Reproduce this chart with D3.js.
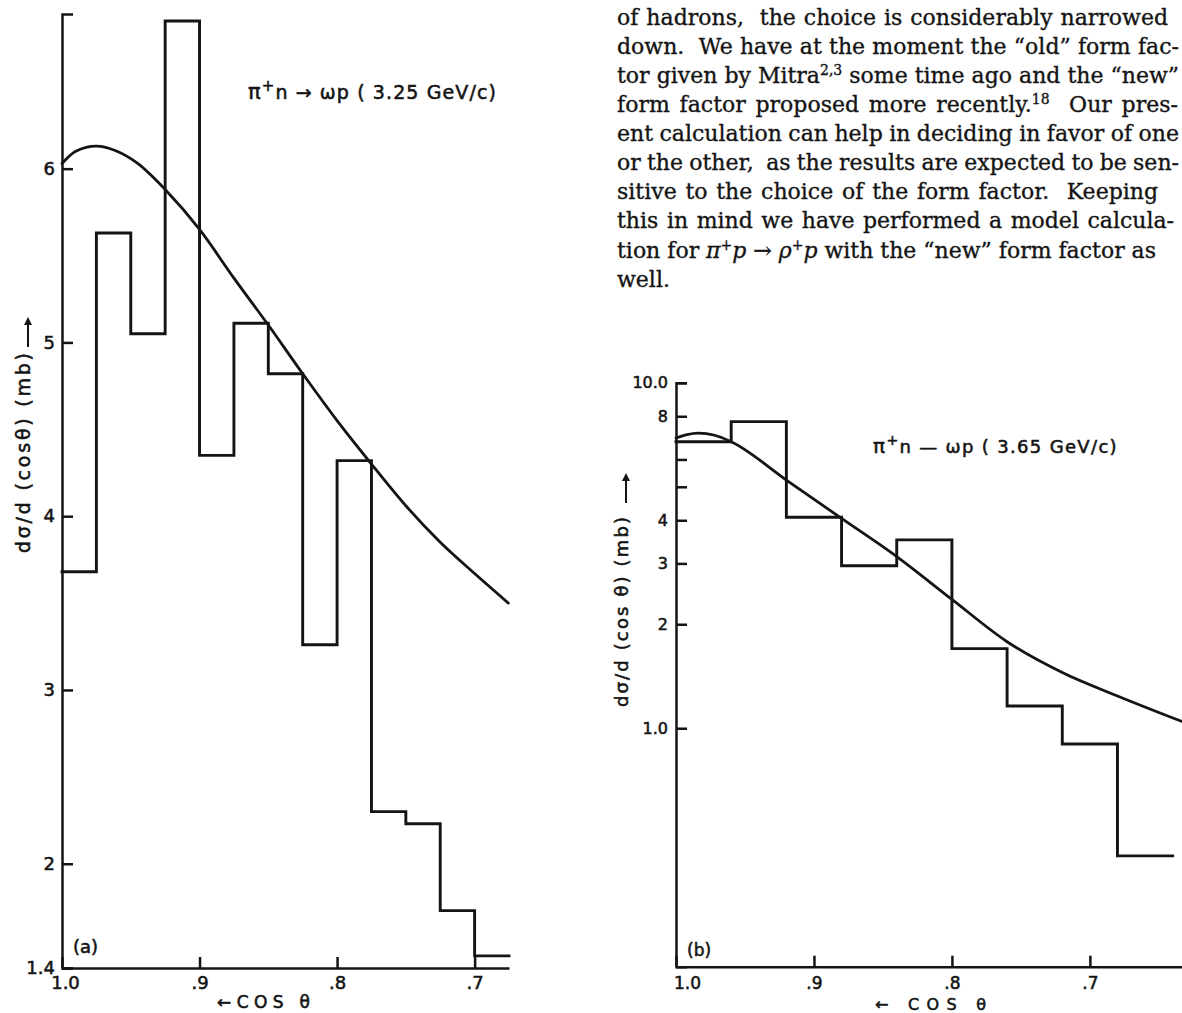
<!DOCTYPE html>
<html>
<head>
<meta charset="utf-8">
<script src="https://cdn.jsdelivr.net/npm/d3@7"></script>
<style>
  html, body { margin: 0; padding: 0; background: #fff; }
  svg { display: block; }
  .body-text { white-space: pre; }
</style>
</head>
<body>
<svg id="fig" width="1182" height="1013"></svg>
<script>
// ---------- data: panel (a)  pi+ n -> omega p at 3.25 GeV/c ----------
const binEdgesA = [1.0, 0.975, 0.95, 0.925, 0.9, 0.875, 0.85, 0.825, 0.8, 0.775, 0.75, 0.725, 0.7, 0.675];
const histA     = [3.68, 5.63, 5.05, 6.85, 4.35, 5.11, 4.82, 3.26, 4.32, 2.30, 2.23, 1.73, 1.47];
const curveCosA = [1.0, 0.99, 0.975, 0.96, 0.945, 0.925, 0.9, 0.875, 0.85, 0.825, 0.8, 0.775, 0.75, 0.725, 0.7, 0.6755];
const curveA    = [6.03, 6.10, 6.13, 6.10, 6.03, 5.88, 5.65, 5.37, 5.10, 4.82, 4.55, 4.30, 4.06, 3.85, 3.67, 3.50];
const yTicksA      = [1.4, 2, 3, 4, 5, 6];
const yTickLabelsA = ["1.4", "2", "3", "4", "5", "6"];

// ---------- data: panel (b)  pi+ n -> omega p at 3.65 GeV/c ----------
const binEdgesB = [1.0, 0.96, 0.92, 0.88, 0.84, 0.80, 0.76, 0.72, 0.68, 0.64];
const histB     = [6.75, 7.72, 4.08, 2.955, 3.51, 1.70, 1.16, 0.90, 0.427];
const curveCosB = [1.0, 0.992, 0.984, 0.972, 0.96, 0.92, 0.88, 0.84, 0.80, 0.76, 0.72, 0.68, 0.633];
const curveB    = [6.92, 7.08, 7.15, 7.05, 6.75, 5.23, 4.05, 3.14, 2.36, 1.78, 1.45, 1.24, 1.045];
const yTicksB      = [1, 2, 3, 4, 5, 6, 8, 10];
const yTickLabelsB = ["1.0", "2", "3", "4", "", "", "8", "10.0"];

// ---------- shared x ticks ----------
const xTicks      = [1.0, 0.9, 0.8, 0.7];
const xTickLabels = ["1.0", ".9", ".8", ".7"];

// ---------- running text beside the figure ----------
const bodyLines = [
  [["of hadrons,  the choice is considerably narrowed"]],
  [["down.  We have at the moment the \u201cold\u201d form fac-"]],
  [["tor given by Mitra"], ["2,3", "sup"], [" some time ago and the \u201cnew\u201d"]],
  [["form factor proposed more recently."], ["18", "sup"], ["  Our pres-"]],
  [["ent calculation can help in deciding in favor of one"]],
  [["or the other,  as the results are expected to be sen-"]],
  [["sitive to the choice of the form factor.  Keeping"]],
  [["this in mind we have performed a model calcula-"]],
  [["tion for "], ["\u03c0", "it"], ["+", "sup"], ["p", "it"], [" \u2192 "], ["\u03c1", "it"], ["+", "sup"], ["p", "it"], [" with the \u201cnew\u201d form factor as"]],
  [["well."]]
];
const bodyLineEnds = [1168, 1179, 1179, 1178, 1179, 1179, 1158, 1174, 1156, null];

const INK = "#141414";
const SANS = "'DejaVu Sans', 'Liberation Sans', sans-serif";
const SERIF = "'DejaVu Serif', 'Liberation Serif', serif";

const svg = d3.select("#fig");

svg.append("defs").append("marker")
  .attr("id", "arrowUp")
  .attr("viewBox", "0 0 10 10")
  .attr("refX", 5).attr("refY", 5)
  .attr("markerWidth", 4).attr("markerHeight", 4)
  .attr("markerUnits", "strokeWidth")
  .attr("orient", "auto")
  .append("path").attr("d", "M0,0 L10,5 L0,10 Z").attr("fill", INK);

// lettering of the figure: a sans face drawn slightly heavier
function letter(sel, fs) {
  return sel.style("font-family", SANS).style("font-size", fs + "px")
    .attr("fill", INK).attr("stroke", INK).attr("stroke-width", 0.55);
}

function styleAxis(g, fs) {
  g.attr("font-family", null).attr("font-size", null);
  g.select(".domain").attr("stroke", INK).attr("stroke-width", 2.5).attr("fill", "none");
  g.selectAll(".tick line").attr("stroke", INK).attr("stroke-width", 2.5);
  letter(g.selectAll(".tick text"), fs);
}

function drawPanel(cfg) {
  const { x, y } = cfg;
  const g = svg.append("g");

  // histogram outline (step curve over the bins)
  const stepPts = cfg.hist.map((v, i) => [cfg.edges[i], v]);
  stepPts.push([cfg.edges[cfg.edges.length - 1], cfg.hist[cfg.hist.length - 1]]);
  g.append("path")
    .attr("d", d3.line().x(d => x(d[0])).y(d => y(d[1])).curve(d3.curveStepAfter)(stepPts))
    .attr("fill", "none").attr("stroke", INK).attr("stroke-width", 2.9)
    .attr("stroke-linejoin", "miter").attr("stroke-linecap", "square");

  // model curve
  const cPts = cfg.curveCos.map((c, i) => [c, cfg.curve[i]]);
  g.append("path")
    .attr("d", d3.line().x(d => x(d[0])).y(d => y(d[1])).curve(d3.curveMonotoneX)(cPts.slice().reverse()))
    .attr("fill", "none").attr("stroke", INK).attr("stroke-width", 2.8)
    .attr("stroke-linecap", "round");

  // axes
  const yAxis = d3.axisLeft(y)
    .tickValues(cfg.yTicks)
    .tickFormat((d, i) => cfg.yLabels[i])
    .tickSizeInner(-11).tickSizeOuter(-11).tickPadding(cfg.yPad);
  const ya = g.append("g").attr("transform", `translate(${x.range()[0]},0)`).call(yAxis);
  styleAxis(ya, cfg.yFs);

  const xAxis = d3.axisBottom(x)
    .tickValues(xTicks)
    .tickFormat((d, i) => xTickLabels[i])
    .tickSizeInner(-11).tickSizeOuter(0).tickPadding(cfg.xPad);
  const xa = g.append("g").attr("transform", `translate(0,${y.range()[0]})`).call(xAxis);
  styleAxis(xa, cfg.xFs);
  xa.selectAll(".tick text").filter(d => d === 1.0).attr("dx", cfg.firstDx);

  // panel tag
  letter(g.append("text").attr("x", cfg.tag[0]).attr("y", cfg.tag[1]), cfg.xFs)
    .text(cfg.tagText);

  // x title
  letter(g.append("text").attr("x", cfg.xTitle[0]).attr("y", cfg.xTitle[1]), cfg.xTitleFs)
    .attr("textLength", cfg.xTitle[2]).attr("lengthAdjust", "spacing")
    .style("white-space", "pre")
    .text(cfg.xTitleText);

  // y title, rotated, followed by an upward arrow
  letter(g.append("text")
    .attr("transform", `translate(${cfg.yTitle[0]},${cfg.yTitle[1]}) rotate(-90)`), cfg.yTitleFs)
    .attr("textLength", cfg.yTitle[2]).attr("lengthAdjust", "spacing")
    .style("white-space", "pre")
    .text(cfg.yTitleText);
  const yEnd = cfg.yTitle[1] - cfg.yTitle[2];
  g.append("line")
    .attr("x1", cfg.yTitle[0] - 2).attr("x2", cfg.yTitle[0] - 2)
    .attr("y1", yEnd - cfg.arrowGap).attr("y2", yEnd - cfg.arrowGap - 26)
    .attr("stroke", INK).attr("stroke-width", 2)
    .attr("marker-end", "url(#arrowUp)");

  // reaction label
  const r = letter(g.append("text").attr("x", cfg.reaction[0]).attr("y", cfg.reaction[1]), cfg.reactionFs)
    .style("white-space", "pre");
  r.append("tspan").style("font-size", (cfg.reactionFs + 2) + "px").text("\u03c0");
  r.append("tspan").attr("dy", -8).style("font-size", (cfg.reactionFs - 4) + "px").text("+");
  r.append("tspan").attr("dy", 8).text("n" + cfg.reactionArrow + "\u03c9p ( " + cfg.momentum + " GeV/c)");
  const w = r.node().getComputedTextLength();
  const nChars = r.text().length;
  r.attr("letter-spacing", ((cfg.reaction[2] - w) / nChars).toFixed(2));
}

// panel (a): linear ordinate
drawPanel({
  x: d3.scaleLinear().domain([1.0, 0.675]).range([62, 509]),
  y: d3.scaleLinear().domain([1.4, 6.89]).range([968, 14]),
  edges: binEdgesA, hist: histA, curveCos: curveCosA, curve: curveA,
  yTicks: yTicksA, yLabels: yTickLabelsA, yPad: 7, yFs: 18,
  xPad: 8, xFs: 18, firstDx: 3,
  tag: [73, 953], tagText: "(a)",
  xTitle: [217, 1008, 93], xTitleFs: 17, xTitleText: "\u2190COS \u03b8",
  yTitle: [30, 553, 200], yTitleFs: 19, yTitleText: "d\u03c3/d (cos\u03b8) (mb)", arrowGap: 6,
  reaction: [248, 99, 249], reactionFs: 19, reactionArrow: " \u2192 ", momentum: "3.25"
});

// panel (b): logarithmic ordinate
drawPanel({
  x: d3.scaleLinear().domain([1.0, 0.6325]).range([676, 1183]),
  y: d3.scaleLog().domain([0.204, 10]).range([966.7, 382.8]),
  edges: binEdgesB, hist: histB, curveCos: curveCosB, curve: curveB,
  yTicks: yTicksB, yLabels: yTickLabelsB, yPad: 8, yFs: 16,
  xPad: 10, xFs: 17, firstDx: 11,
  tag: [687, 956], tagText: "(b)",
  xTitle: [875, 1010, 111], xTitleFs: 16, xTitleText: "\u2190 COS \u03b8",
  yTitle: [628, 707, 190], yTitleFs: 18, yTitleText: "d\u03c3/d (cos \u03b8) (mb)", arrowGap: 14,
  reaction: [873, 453, 245], reactionFs: 18, reactionArrow: " \u2014 ", momentum: "3.65"
});

// running text, justified to the line ends
const textX = 617, firstBase = 25, lead = 29.07, bodyFs = 22;
bodyLines.forEach((segs, i) => {
  const t = svg.append("text")
    .attr("class", "body-text")
    .attr("x", textX).attr("y", firstBase + i * lead)
    .style("font-family", SERIF).style("font-size", bodyFs + "px")
    .attr("fill", INK).attr("stroke", INK).attr("stroke-width", 0.35);
  let shifted = false;
  segs.forEach(([s, kind]) => {
    const sp = t.append("tspan").text(s);
    if (kind === "sup") {
      sp.attr("dy", -8).style("font-size", (bodyFs - 8) + "px");
      shifted = true;
    } else {
      if (shifted) { sp.attr("dy", 8); shifted = false; }
      if (kind === "it") sp.style("font-style", "italic");
    }
  });
  const end = bodyLineEnds[i];
  if (end != null) {
    const w = t.node().getComputedTextLength();
    const full = segs.map(d => d[0]).join("");
    const gaps = (full.match(/ /g) || []).length;
    if (gaps > 0) t.attr("word-spacing", ((end - textX - w) / gaps).toFixed(2));
  }
});
</script>
</body>
</html>
